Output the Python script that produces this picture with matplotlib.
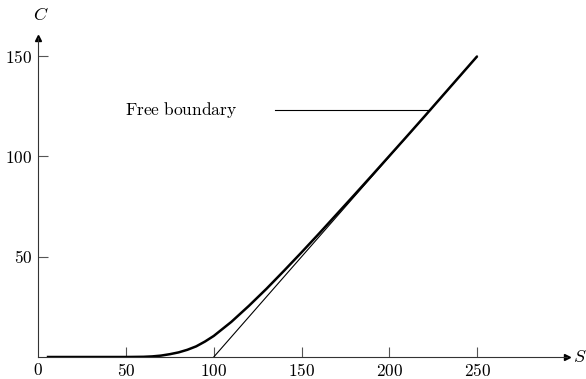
import matplotlib
matplotlib.use("Agg")
import matplotlib.pyplot as plt
import numpy as np

plt.rcParams['mathtext.fontset'] = 'cm'
plt.rcParams['font.family'] = 'DejaVu Serif'

# Option value curve
S_vals = [5, 50, 60, 65, 70, 75, 80, 85, 90, 95, 100, 110, 120, 130, 140, 150,
          160, 170, 180, 190, 200, 210, 220, 230, 240, 250]
C_vals = [0, 0, 0.1, 0.3, 0.7, 1.4, 2.3, 3.6, 5.3, 7.7, 10.5, 17.5, 25.5, 34.0, 43.0, 52.2,
          61.6, 71.2, 80.8, 90.5, 100.3, 110.1, 120.0, 130.0, 140.0, 150.0]
# Payoff line
payoff_S = [100, 250]
payoff_C = [0, 150]
# Free boundary marker
fb_S = [135, 223]
fb_C = 123
fb_label = 'Free boundary'

xticks = [50, 100, 150, 200, 250]
yticks = [50, 100, 150]

fig = plt.figure(figsize=(5.86, 3.79), dpi=100)
ax = fig.add_axes([38/586, 22/379, 529/586, 319/379])
ax.set_xlim(0, 301)
ax.set_ylim(0, 159)

ax.plot(S_vals, C_vals, color='black', lw=1.8, solid_capstyle='butt')
ax.plot(payoff_S, payoff_C, color='black', lw=0.8)
ax.plot(fb_S, [fb_C, fb_C], color='black', lw=0.8)
ax.text(49.5, fb_C, r'$\mathrm{Free\ boundary}$', fontsize=12.5, ha='left', va='center')

for side in ['top', 'right']:
    ax.spines[side].set_visible(False)
for side in ['left', 'bottom']:
    ax.spines[side].set_color('#333333')
    ax.spines[side].set_linewidth(0.8)

ax.plot(1, 0, marker='>', color='black', ms=5, transform=ax.transAxes, clip_on=False)
ax.plot(0, 1, marker='^', color='black', ms=5, transform=ax.transAxes, clip_on=False)

ax.set_xticks(xticks)
ax.set_xticklabels([rf'${t}$' for t in xticks], fontsize=12.5)
ax.set_yticks(yticks)
ax.set_yticklabels([rf'${t}$' for t in yticks], fontsize=12.5)
ax.tick_params(axis='both', direction='in', length=7, width=0.8, color='#555555', pad=4)

ax.text(0, -2.5, r'$0$', fontsize=12.5, ha='center', va='top', transform=ax.transData, clip_on=False)

ax.text(0.005, 1.045, r'$C$', fontsize=13, ha='center', va='bottom', transform=ax.transAxes)
ax.text(1.012, 0, r'$S$', fontsize=13, ha='left', va='center', transform=ax.transAxes)

fig.savefig('out.png', dpi=100)
